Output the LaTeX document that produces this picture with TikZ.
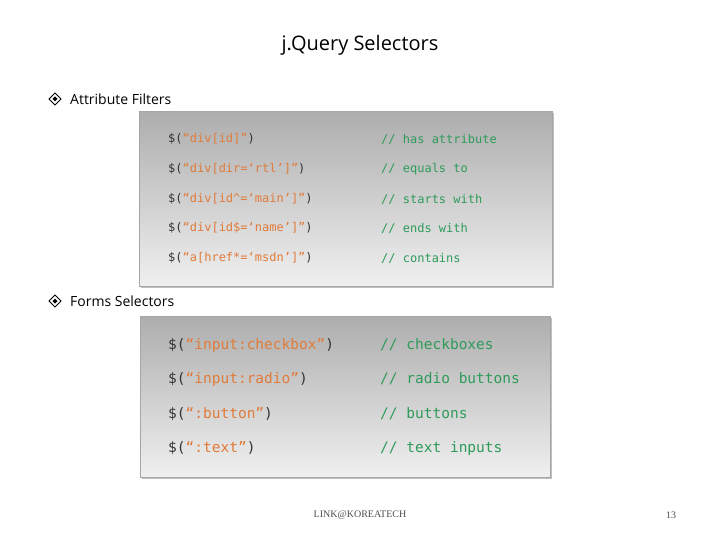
\documentclass[tikz,border=0pt]{standalone}
\usepackage{fontspec}
\setmainfont{Open Sans}
\newfontfamily\codefont{DejaVu Sans Mono}
\newfontfamily\footfont{Liberation Serif}
\definecolor{cdark}{HTML}{333333}
\definecolor{corange}{HTML}{E07B39}
\definecolor{cgreen}{HTML}{2E9B5A}
\begin{document}
\begin{tikzpicture}[x=1pt,y=-1pt,
  codeA/.style={anchor=west,inner sep=0,font=\codefont\fontsize{12}{14}\selectfont},
  codeB/.style={anchor=west,inner sep=0,font=\codefont\fontsize{14.5}{17}\selectfont},
  head/.style={anchor=west,inner sep=0,font=\fontsize{14}{16}\selectfont},
  panel/.style={draw=gray!70,top color=black!32,bottom color=black!6}]
\useasboundingbox (0,0) rectangle (720,540);
\node (title) at (360,45) {\fontsize{20}{24}\selectfont j.Query Selectors};
% bullets
\foreach \n/\yy in {b1/99,b2/301}{
  \coordinate (\n) at (55,\yy);
  \draw[line width=0.8pt] ([xshift=-6]\n) -- ([yshift=-6]\n) -- ([xshift=6]\n) -- ([yshift=6]\n) -- cycle;
  \fill ([xshift=-2.5]\n) -- ([yshift=-2.5]\n) -- ([xshift=2.5]\n) -- ([yshift=2.5]\n) -- cycle;
}
\node[head] (h1) at (70,99) {Attribute Filters};
\node[head] (h2) at (70,301) {Forms Selectors};
\fill[black!25] (141,113) rectangle (554,288);
\node[panel,minimum width=413,minimum height=175,anchor=north west,inner sep=0] (p1) at (139,111) {};
\fill[black!25] (142,318) rectangle (552,479);
\node[panel,minimum width=410,minimum height=161,anchor=north west,inner sep=0] (p2) at (140,316) {};
% box 1
\foreach \yy/\c/\m in {139/div[id]/has attribute,
  169/div[dir=‘rtl’]/equals to,
  199/div[id\^{}=‘main’]/starts with,
  228/div[id\$=‘name’]/ends with,
  258/a[href*=‘msdn’]/contains}{
  \node[codeA] at (168,\yy) {\textcolor{cdark}{\$(}\textcolor{corange}{“\c”}\textcolor{cdark}{)}};
  \node[codeA,text=cgreen] at (381,\yy) {// \m};
}
% box 2
\foreach \yy/\c/\m in {345/input:checkbox/checkboxes,
  379/input:radio/radio buttons,
  414/:button/buttons,
  448/:text/text inputs}{
  \node[codeB] at (168,\yy) {\textcolor{cdark}{\$(}\textcolor{corange}{“\c”}\textcolor{cdark}{)}};
  \node[codeB,text=cgreen] at (380,\yy) {// \m};
}
\node[font=\footfont\fontsize{10}{12}\selectfont,text=black!70] (foot) at (360,515) {LINK@KOREATECH};
\node[font=\footfont\fontsize{10}{12}\selectfont,text=black!70] (pg) at (671,515) {13};
\end{tikzpicture}
\end{document}
